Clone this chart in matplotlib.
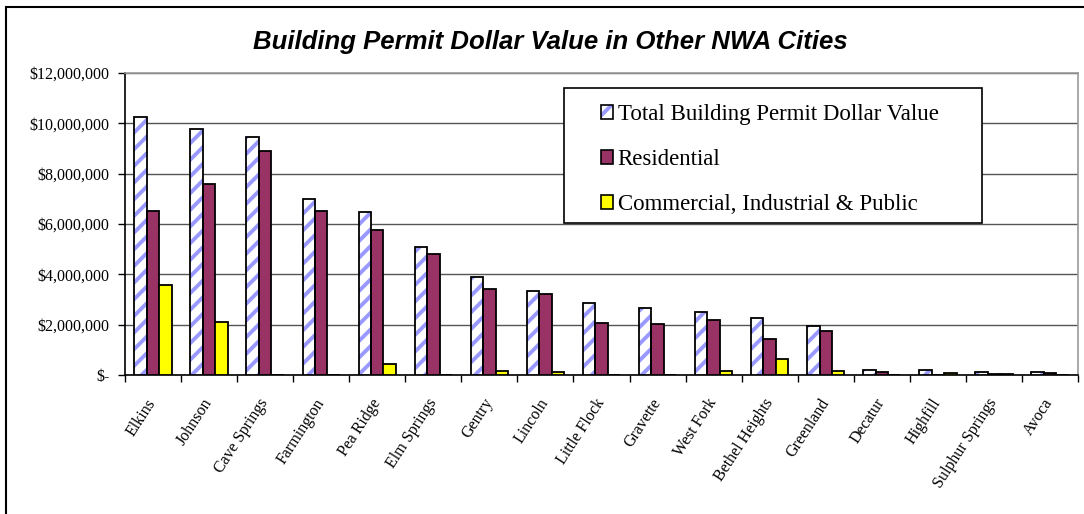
import matplotlib.pyplot as plt
import numpy as np
from matplotlib.patches import Rectangle, Patch
from matplotlib.ticker import FuncFormatter, FixedLocator
from matplotlib.legend_handler import HandlerTuple

plt.rcParams["hatch.linewidth"] = 2.8

# values, in dollars
cities = ["Elkins", "Johnson", "Cave Springs", "Farmington", "Pea Ridge",
          "Elm Springs", "Gentry", "Lincoln", "Little Flock", "Gravette",
          "West Fork", "Bethel Heights", "Greenland", "Decatur", "Highfill",
          "Sulphur Springs", "Avoca"]
total = [10260000, 9780000, 9440000, 6980000, 6460000, 5080000, 3880000,
         3320000, 2850000, 2680000, 2520000, 2250000, 1930000, 210000,
         210000, 110000, 110000]
residential = [6520000, 7580000, 8900000, 6530000, 5780000, 4820000, 3400000,
               3200000, 2070000, 2030000, 2200000, 1430000, 1730000, 100000,
               0, 40000, 70000]
commercial = [3570000, 2100000, 0, 0, 440000, 0, 160000, 100000, 0, 0,
              150000, 650000, 150000, 0, 90000, 30000, 0]
series_names = ["Total Building Permit Dollar Value", "Residential",
                "Commercial, Industrial & Public"]

W, H = 1084, 514
fig = plt.figure(figsize=(W / 100, H / 100), dpi=100)
ax = fig.add_axes([125 / W, 1 - 375 / H, (1078 - 125) / W, (375 - 73) / H])

x = np.arange(len(cities))
bw = 0.222
hatch_col = "#9999FF"
res_col = "#993366"
com_col = "#FFFF00"

# total: hatch drawn first, then black outline on top
ax.bar(x - bw, total, bw, color="white", edgecolor=hatch_col, hatch="//",
       linewidth=0, zorder=3)
ax.bar(x - bw, total, bw, fill=False, edgecolor="black", linewidth=1.3, zorder=4)
ax.bar(x, residential, bw, color=res_col, edgecolor="black", linewidth=1.3, zorder=3)
ax.bar(x + bw, commercial, bw, color=com_col, edgecolor="black", linewidth=1.3, zorder=3)

ax.set_xlim(-0.5, len(cities) - 0.5)
ax.set_ylim(0, 12000000)
ax.set_yticks(np.arange(0, 12000001, 2000000))


def money(v, pos):
    if v == 0:
        return "$-"
    return "${:,.0f}".format(v)


ax.yaxis.set_major_formatter(FuncFormatter(money))
ax.grid(axis="y", color="#555555", linewidth=1, zorder=0)
ax.set_axisbelow(True)

ax.set_xticks(x)
ax.set_xticklabels(cities, rotation=57, ha="right", va="center",
                   rotation_mode="anchor", family="Liberation Serif", fontsize=11.5)
ax.tick_params(axis="x", which="major", length=0, pad=18)
ax.xaxis.set_minor_locator(FixedLocator(np.arange(-0.5, len(cities), 1)))
ax.tick_params(axis="x", which="minor", length=5, direction="out", width=1)
ax.tick_params(axis="y", length=5, direction="out", width=1, pad=6)
for lab in ax.get_yticklabels():
    lab.set_family("Liberation Serif")
    lab.set_fontsize(11.5)

for s in ["left", "bottom"]:
    ax.spines[s].set_color("black")
    ax.spines[s].set_linewidth(1.2)
for s in ["top", "right"]:
    ax.spines[s].set_color("#999999")
    ax.spines[s].set_linewidth(1.2)

# outer chart border
fig.add_artist(Rectangle((6 / W, -0.05), 1.2, 1 - 7 / H + 0.05,
                         transform=fig.transFigure, fill=False,
                         edgecolor="black", linewidth=1.5, clip_on=False))

fig.text(550 / W, 1 - 42 / H, "Building Permit Dollar Value in Other NWA Cities",
         ha="center", va="center", family="Liberation Sans", fontsize=18.5,
         fontweight="bold", fontstyle="italic")

# legend box
fig.add_artist(Rectangle((564 / W, 1 - 223 / H), (982 - 564) / W, (223 - 88) / H,
                         transform=fig.transFigure, facecolor="white",
                         edgecolor="black", linewidth=1.2, zorder=2))
h_total = (Patch(facecolor="white", edgecolor=hatch_col, hatch="//", linewidth=0),
           Patch(fill=False, edgecolor="black", linewidth=1.2))
h_res = Patch(facecolor=res_col, edgecolor="black", linewidth=1.2)
h_com = Patch(facecolor=com_col, edgecolor="black", linewidth=1.2)
leg = fig.legend([h_total, h_res, h_com], series_names,
                 handler_map={tuple: HandlerTuple(ndivide=1)},
                 loc="upper left", bbox_to_anchor=(601 / W, 1 - 104 / H),
                 frameon=False, borderpad=0, borderaxespad=0,
                 handlelength=0.52, handleheight=0.52, handletextpad=0.2,
                 labelspacing=1.05, prop={"family": "Liberation Serif", "size": 16.5})
leg.set_zorder(3)

fig.savefig("out.png", dpi=100)
